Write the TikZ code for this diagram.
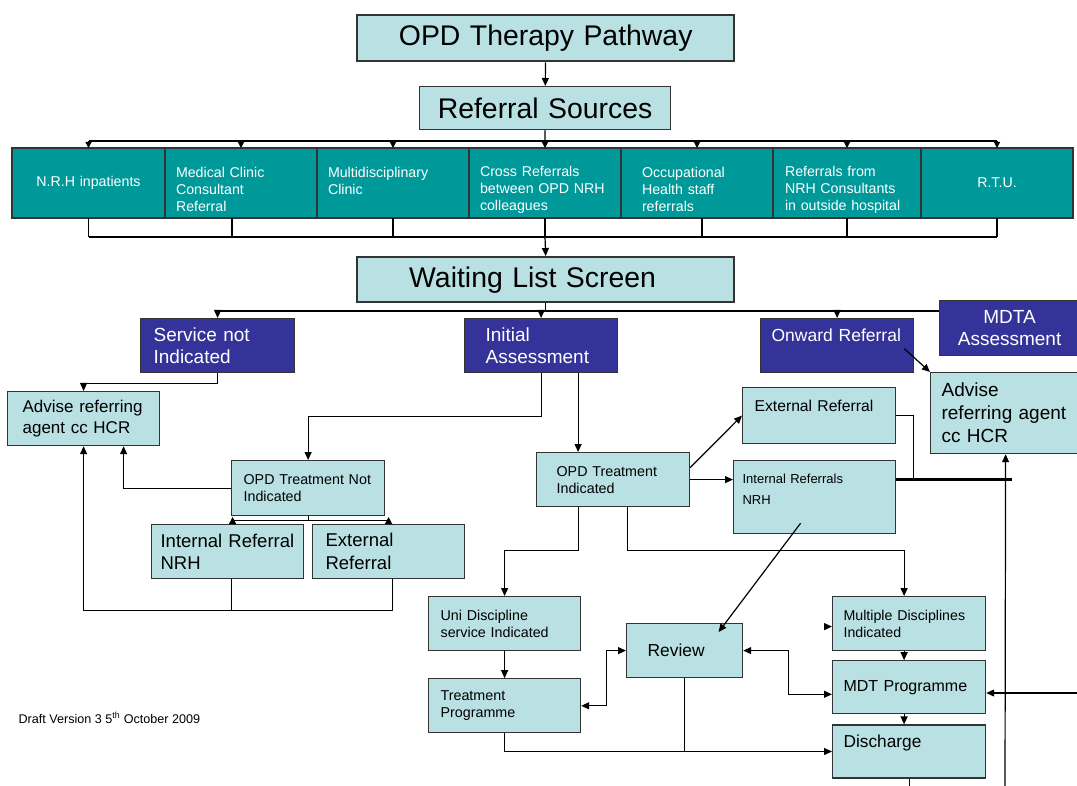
\documentclass[tikz,border=0pt]{standalone}
\usepackage{fontspec}
\setmainfont{Liberation Sans}
\usetikzlibrary{positioning,arrows.meta}
\definecolor{paleblue}{RGB}{185,224,227}
\definecolor{tealbox}{RGB}{0,153,153}
\definecolor{navybox}{RGB}{51,51,153}
\newcommand\fsz[2]{\fontsize{#1}{#2}\selectfont}

\begin{document}
\begin{tikzpicture}[x=1pt,y=-1pt,line width=1.2pt,
  arr/.style={-{Triangle[length=8pt,width=7pt]}},
  arrs/.style={-{Triangle[length=6pt,width=6pt]}},
  darr/.style={{Triangle[length=8pt,width=7pt]}-{Triangle[length=8pt,width=7pt]}},
  rarr/.style={-{Triangle[length=7pt,width=7pt,reversed]}},
  pbox/.style={draw=black!80, fill=paleblue, align=left, inner ysep=0pt, anchor=north west},
  nbox/.style={draw=black!80, fill=navybox, text=white, align=left, inner ysep=0pt, anchor=north west},
  srcbox/.style={draw=black!80, fill=tealbox, text=white, align=left, inner ysep=0pt, outer sep=0pt,
    minimum height=70pt, font=\fsz{14.2}{17}},
  srctop/.style={execute at begin node={\rule{0pt}{23pt}}}
  ]
  \useasboundingbox (0,0) rectangle (1077,786);

  % heading
  \node[pbox, line width=2.4pt, align=center, inner xsep=10pt, text width=357pt,
    minimum height=46pt, font=\fsz{28.4}{34}] (title) at (356,14) {OPD Therapy Pathway};
  \node[pbox, align=center, inner xsep=10pt, text width=231pt,
    minimum height=43pt, font=\fsz{28.4}{34}] (refsrc) at (419,86) {Referral Sources};

  % referral sources row
  \node[srcbox, anchor=north west, align=center, inner xsep=10pt, text width=133pt] (s1) at (12,148) {N.R.H inpatients};
  \node[srcbox, srctop, inner xsep=11pt, text width=130pt, right=0pt of s1] (s2) {Medical Clinic\\Consultant\\Referral};
  \node[srcbox, srctop, inner xsep=11pt, text width=130pt, right=0pt of s2] (s3) {Multidisciplinary\\Clinic\\~};
  \node[srcbox, srctop, inner xsep=11pt, text width=130pt, right=0pt of s3] (s4) {Cross Referrals\\between OPD NRH\\colleagues};
  \node[srcbox, srctop, inner xsep=21pt, text width=110pt, right=0pt of s4] (s5) {Occupational\\Health staff\\referrals};
  \node[srcbox, srctop, inner xsep=12pt, text width=124pt, right=0pt of s5] (s6) {Referrals from\\NRH Consultants\\in outside hospital};
  \node[srcbox, align=center, inner xsep=10pt, text width=132pt, right=0pt of s6] (s7) {R.T.U.};

  \node[pbox, line width=2.4pt, inner xsep=52pt, text width=273pt,
    minimum height=45pt, font=\fsz{28.4}{34}] (wait) at (356,256) {Waiting List Screen};

  % outcomes of screening
  \node[nbox, inner xsep=13pt, text width=128pt, minimum height=54pt, font=\fsz{19}{22.5}] (svc) at (140,318) {Service not\\Indicated};
  \node[nbox, inner xsep=21pt, text width=111pt, minimum height=54pt, font=\fsz{19}{22.5}] (init) at (464,318) {Initial\\Assessment};
  \node[nbox, inner xsep=11pt, text width=131pt, minimum height=54pt, font=\fsz{17.5}{21}] (onward) at (760,318) {Onward Referral\\~};
  \node[nbox, align=center, inner xsep=10pt, text width=120pt, minimum height=55pt, font=\fsz{19}{22.5}] (mdta) at (939,300) {MDTA\\Assessment};

  \node[pbox, inner xsep=11pt, text width=128pt, minimum height=81pt, font=\fsz{19}{23}] (advR) at (930,372) {Advise\\referring agent\\cc HCR};
  \node[pbox, inner xsep=15pt, text width=122pt, minimum height=54pt, font=\fsz{17}{21}] (advL) at (7,391) {Advise referring\\agent cc HCR};

  \node[pbox, inner xsep=12pt, text width=129pt, minimum height=55pt, font=\fsz{14.3}{17}] (nti) at (231,460) {OPD Treatment Not\\Indicated};
  \node[pbox, inner xsep=9pt, text width=134pt, minimum height=54pt, font=\fsz{18.5}{22.5}] (intL) at (151,524) {Internal Referral\\NRH};
  \node[pbox, inner xsep=13pt, text width=126pt, minimum height=54pt, font=\fsz{18.5}{22.5}] (extL) at (312,524) {External\\Referral};

  \node[pbox, inner xsep=20pt, text width=113pt, minimum height=54pt, font=\fsz{14.3}{17}] (ti) at (536,452) {OPD Treatment\\Indicated};
  \node[pbox, inner xsep=12pt, text width=129pt, minimum height=56pt, font=\fsz{15.7}{19}] (extR) at (742,387) {External Referral\\~};
  \node[pbox, inner xsep=9pt, text width=144pt, minimum height=73pt, font=\fsz{13}{15.6}] (intR) at (733,460) {Internal Referrals\\[6pt]NRH\\~};

  \node[pbox, inner xsep=12pt, text width=128pt, minimum height=54pt, font=\fsz{14.3}{17}] (uni) at (428,596) {Uni Discipline\\service Indicated};
  \node[pbox, inner xsep=12pt, text width=128pt, minimum height=54pt, font=\fsz{14.3}{17}, below=27pt of uni] (treat) {Treatment\\Programme};
  \node[pbox, inner xsep=21pt, text width=74pt, minimum height=54pt, font=\fsz{17.4}{21}] (review) at (626,623) {Review};
  \node[pbox, inner xsep=11pt, text width=131pt, minimum height=54pt, font=\fsz{14.2}{17}] (multi) at (832,596) {Multiple Disciplines\\Indicated};
  \node[pbox, inner xsep=11pt, text width=131pt, minimum height=53pt, font=\fsz{16}{19}, below=9pt of multi] (mdt) {MDT Programme};
  \node[pbox, inner xsep=11pt, text width=131pt, minimum height=53pt, font=\fsz{17.3}{21}, below=10pt of mdt] (dis) {Discharge\\~};

  \node[anchor=west, inner sep=0pt, font=\fsz{12.6}{15}] (draft) at (18,718) {Draft Version 3 5\textsuperscript{th} October 2009};

  \coordinate (busT) at (545,141);
  \coordinate (busB) at (545,237);
  \coordinate (busW) at (541,311);
  \coordinate (edgeB) at (1005,790);
  \coordinate (edgeR) at (1080,693);

  % top part
  \draw[arr] (title) -- (refsrc);
  \draw (refsrc.south) -- (busT);
  \draw (s1.north |- busT) -- (s7.north |- busT);
  \foreach \n in {s1,s2,s3,s4,s5,s6,s7}
    \draw[arrs] (\n.north |- busT) -- (\n.north);
  \foreach \n/\dx in {s1/0,s2/-9,s3/0,s4/0,s5/5,s6/0,s7/0}
    \draw ([xshift=\dx pt]\n.south) -- ([xshift=\dx pt]\n.south |- busB);
  \draw (s1.south |- busB) -- (s7.south |- busB);
  \draw[arr] (busB) -- (wait.north);

  \draw (wait.south) -- (wait.south |- busW);
  \draw (svc.north |- busW) -- (onward.north |- busW);
  \draw (mdta.west |- busW) -- (onward.north |- busW);
  \foreach \n in {svc,init,onward}
    \draw[arr] (\n.north |- busW) -- (\n.north);
  \draw[arr] ([xshift=-10pt,yshift=-3pt]onward.east) -- (advR.north west);

  % left branch
  \draw[arr] (svc.south) -- ++(0,10) -| (advL.north);
  \draw[arr] (init.south) -- ++(0,43) -| (nti.north);
  \draw[arr] (nti.west) -| ([xshift=40pt]advL.south);
  \draw (nti.south) -- ++(0,4) coordinate (ntiJ);
  \draw[rarr] (ntiJ) -| ([xshift=5pt]intL.north);
  \draw[rarr] (ntiJ) -| (extL.north);
  \draw ([xshift=4pt]intL.south) -- ++(0,31);
  \draw[arr] ([xshift=4pt]extL.south) -- ++(0,31) -| (advL.south);

  % right branch
  \draw[arr] ([xshift=37pt]init.south) -- ([xshift=37pt]init.south |- ti.north);
  \draw[arr] ([yshift=12pt]ti.east) -- (extR.west);
  \draw[arr] (ti.east) -- (ti.east -| intR.west);
  \draw (extR.east) -| ([xshift=17pt]intR.east |- ti.east);
  \draw[line width=2.6pt] (intR.east |- ti.east) -- ([xshift=6pt]advR.south |- ti.east);
  \draw[arr] (edgeB) -- (advR.south);

  \draw[arr] ([xshift=-35pt]ti.south) -- ++(0,43) -| (uni.north);
  \draw[arr] ([xshift=14pt]ti.south) -- ++(0,43) -| ([xshift=-5pt]multi.north);
  \draw[arr] ([xshift=-14pt,yshift=11pt]intR.south) -- ([xshift=34pt,yshift=-9pt]review.north);
  \draw[arr] (uni) -- (treat);
  \draw[darr] (treat.east) -- ++(25,0) |- (review.west);
  \draw[darr] (review.east) -- ++(45,0) |- ([yshift=-7pt]mdt.west);
  \draw[arr] ([xshift=-5pt]multi.south) -- ([xshift=-5pt]mdt.north);
  \draw[arr] ([xshift=-5pt]mdt.south) -- ([xshift=-5pt]dis.north);
  \draw[arr] (treat.south) |- (dis.west);
  \draw (review.south) -- (review.south |- dis.west);
  \draw (dis.south) -- (dis.south |- edgeB);
  \draw[arr] (edgeR) -- (edgeR -| mdt.east);
  \draw[arr] ([xshift=-8pt,yshift=-3pt]multi.west) -- ([yshift=-3pt]multi.west);
\end{tikzpicture}
\end{document}
